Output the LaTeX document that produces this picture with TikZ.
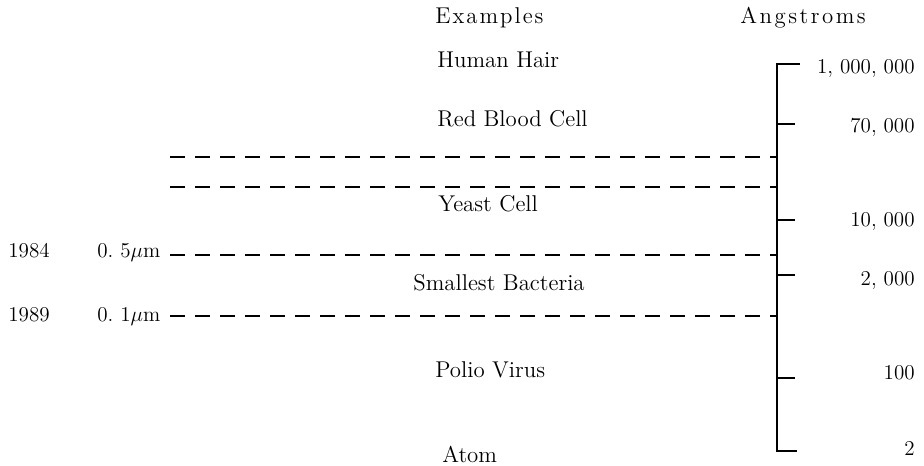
\documentclass[tikz,border=0pt]{standalone}
\usepackage{fontspec}
\newfontfamily\exspaced[LetterSpace=8.7]{Latin Modern Roman}
\newfontfamily\angspaced[LetterSpace=11]{Latin Modern Roman}
\usepackage{tikz}
\usetikzlibrary{positioning}

\begin{document}
\begin{tikzpicture}[x=0.2mm, y=-0.2mm, every node/.style={inner sep=0pt},
    ex/.style={anchor=base west, font=\fontsize{13}{15}\selectfont},
    head/.style={anchor=base west},
    val/.style={anchor=base east, font=\fontsize{12}{14}\selectfont},
    yr/.style={anchor=base west, font=\fontsize{12}{14}\selectfont},
    limit/.style={dash pattern=on 3mm off 2mm, line width=0.6pt},
    tick/.style={line width=1.1pt}]
    \useasboundingbox (0,0) rectangle (924,466);
    % headings
    \node (exhead) [head, font=\exspaced\fontsize{13}{15}\selectfont] at (435,24) {Examples};
    \node (anghead) [head, font=\angspaced\fontsize{13}{15}\selectfont] at (740,24) {Angstroms};
    % examples column
    \node (hair) [ex] at (437,68) {Human Hair};
    \node (blood)[ex] at (437,127) {Red Blood Cell};
    \node (yeast)[ex] at (438,212) {Yeast Cell};
    \node (bact) [ex] at (413,291) {Smallest Bacteria};
    \node (polio)[ex] at (435,378) {Polio Virus};
    \node (atom) [ex] at (442,462) {Atom};
    % scale values
    \node (v1) [val] at (915,74) {1, 000, 000};
    \node (v2) [val] at (915,133) {70, 000};
    \node (v3) [val] at (915,227) {10, 000};
    \node (v4) [val] at (915,286) {2, 000};
    \node (v5) [val] at (915,380) {100};
    \node (v6) [val] at (915,455) {2};
    % years and sizes
    \node (y84) [yr] at (8,258) {1984};
    \node (s84) [yr] at (97,258) {0.\ 5$\mu$m};
    \node (y89) [yr] at (8,322) {1989};
    \node (s89) [yr] at (97,322) {0.\ 1$\mu$m};
    % axis
    \coordinate (top) at (777,64);
    \coordinate (bot) at (777,451);
    \draw[tick] (800,64) -- (top) -- (bot) -- (797,451);
    \foreach \yy in {124,220,275,378} \draw[tick] (777,\yy) -- (795,\yy);
    % dashed limits
    \coordinate (d1) at (170,157); \coordinate (d2) at (170,187);
    \coordinate (d3) at (170,255); \coordinate (d4) at (170,316);
    \draw[limit] (d1) -- (d1 -| top); \draw[limit] (d2) -- (d2 -| top);
    \draw[limit] (d3) -- (d3 -| top); \draw[limit] (d4) -- (d4 -| top);
\end{tikzpicture}
\end{document}
